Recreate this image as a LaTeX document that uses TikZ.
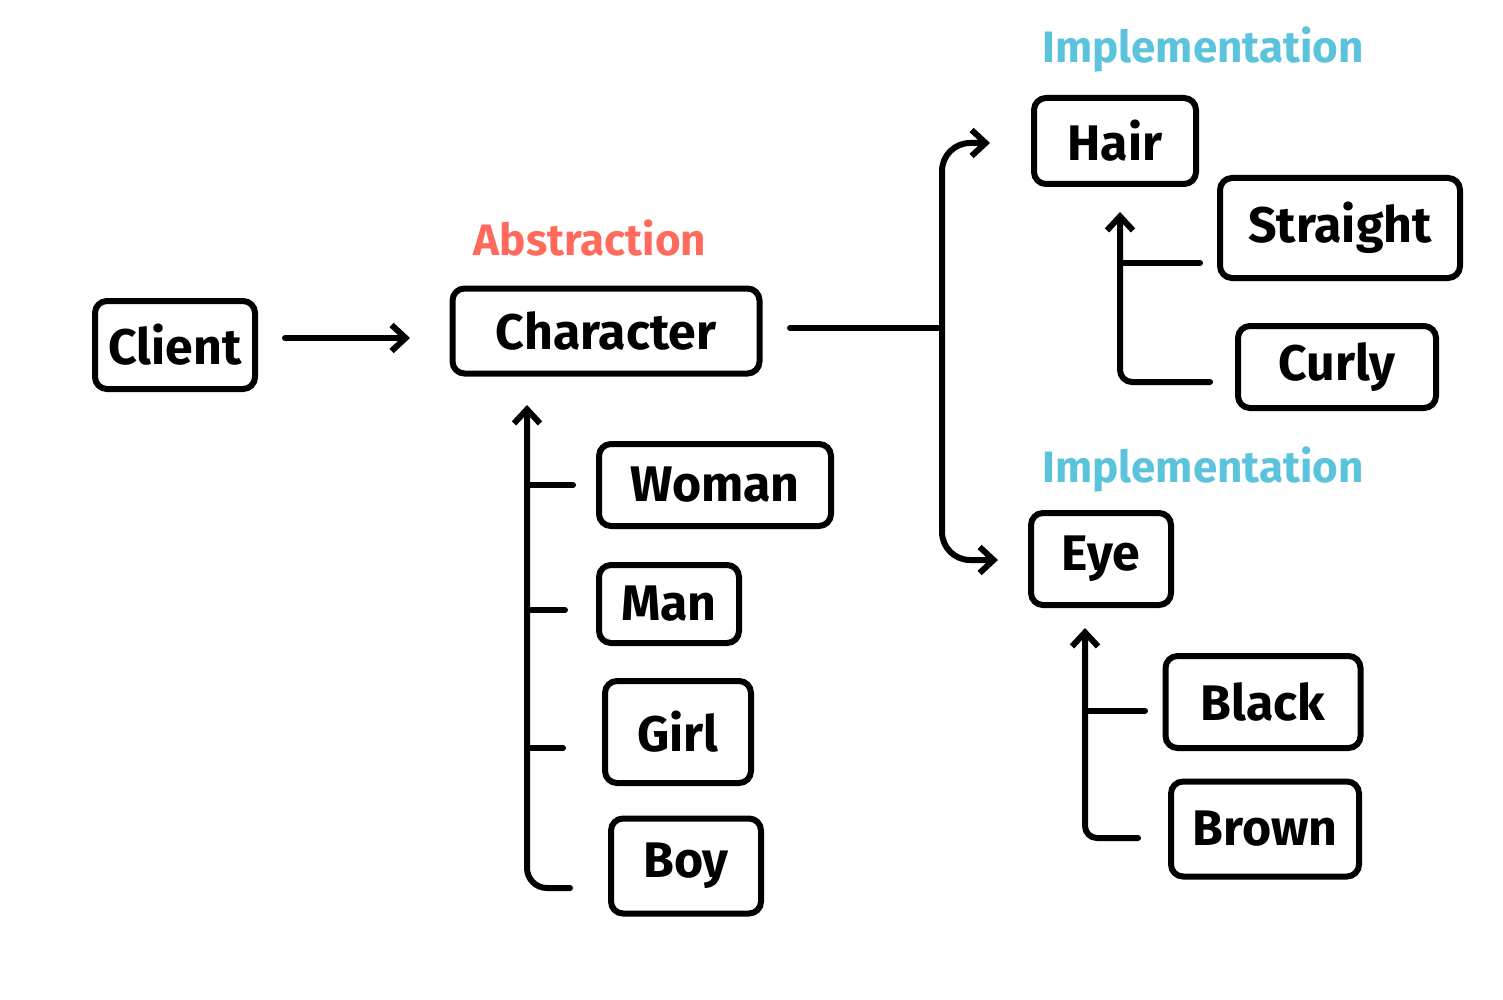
\documentclass[tikz,border=0pt]{standalone}
\usepackage{fontspec}
\setmainfont{Fira Sans}
\usetikzlibrary{arrows.meta}
\definecolor{absred}{HTML}{FF6A5C}
\definecolor{impblue}{HTML}{5BC3DC}
\tikzset{
  box/.style 2 args={draw, line width=3pt, rounded corners=6pt, minimum width={#1*0.5pt}, minimum height={#2*0.5pt}, inner sep=0pt, font=\fontsize{25}{28}\selectfont\bfseries},
  link/.style={line width=3pt, line cap=round, line join=round},
  arr/.style={link, -{Straight Barb[length=7pt, width=13pt, line width=3pt]}},
  lbl/.style={font=\fontsize{22}{26}\selectfont\bfseries}
}
\begin{document}
\begin{tikzpicture}[x=0.5pt,y=-0.5pt]
\useasboundingbox (0,0) rectangle (1503,1000);
% nodes
\node[box={160}{88}] (client) at (175,345) {Client};
\node[box={307}{85}] (character) at (606,331) {Character};
\node[lbl, text=absred] (abs) at (590,238) {Abstraction};
\node[box={232}{82}] (woman) at (715,485) {Woman};
\node[box={140}{78}] (man) at (669,604) {Man};
\node[box={146}{102}] (girl) at (678,732) {Girl};
\node[box={150}{95}] (boy) at (686,866) {Boy};
\node[lbl, text=impblue] (imp1) at (1203,50) {Implementation};
\node[box={162}{86}] (hair) at (1115,141) {Hair};
\node[box={240}{100}] (straight) at (1340,228) {Straight};
\node[box={198}{82}] (curly) at (1337,367) {Curly};
\node[lbl, text=impblue] (imp2) at (1203,470) {Implementation};
\node[box={140}{92}] (eye) at (1101,559) {Eye};
\node[box={195}{92}] (black) at (1263,702) {Black};
\node[box={188}{95}] (brown) at (1265,829) {Brown};
% client -> character
\coordinate (c1) at (285,338);
\coordinate (c2) at (410,338);
\draw[arr] (c1) -- (c2);
% character -> hair / eye
\coordinate (b0) at (790,328);
\coordinate (bus) at (942,328);
\coordinate (hairtip) at (990,143);
\coordinate (eyetip) at (998,560);
\draw[link] (b0) -- (bus);
\draw[arr, rounded corners=14pt] (bus) |- (hairtip);
\draw[arr, rounded corners=14pt] (bus) |- (eyetip);
% character tree
\coordinate (ctip) at (527,405);
\coordinate (cbot) at (570,888);
\draw[arr, rounded corners=10pt] (cbot) -| (ctip);
\coordinate (tw) at (573,485);
\coordinate (tm) at (565,610);
\coordinate (tg) at (563,748);
\draw[link] (ctip |- tw) -- (tw);
\draw[link] (ctip |- tm) -- (tm);
\draw[link] (ctip |- tg) -- (tg);
% hair tree
\coordinate (htip) at (1120,212);
\coordinate (hbot) at (1210,382);
\coordinate (hs) at (1200,263);
\draw[arr, rounded corners=6pt] (hbot) -| (htip);
\draw[link] (htip |- hs) -- (hs);
% eye tree
\coordinate (etip) at (1085,628);
\coordinate (ebot) at (1138,838);
\coordinate (eb) at (1145,711);
\draw[arr, rounded corners=6pt] (ebot) -| (etip);
\draw[link] (etip |- eb) -- (eb);
\end{tikzpicture}
\end{document}
